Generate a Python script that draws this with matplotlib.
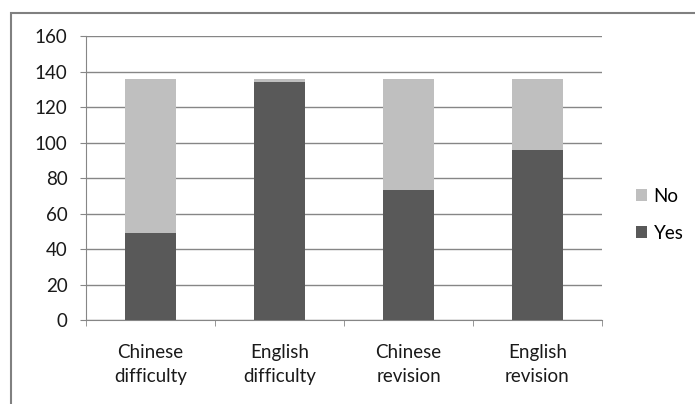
import matplotlib
matplotlib.use("Agg")
import numpy as np
from matplotlib import pyplot as plt
from matplotlib.patches import Rectangle

# data
categories = ["Chinese\ndifficulty", "English\ndifficulty", "Chinese\nrevision", "English\nrevision"]
yes_counts = [49, 134, 73, 96]
no_counts = [87, 2, 63, 40]
y_ticks = [0, 20, 40, 60, 80, 100, 120, 140, 160]

plt.rcParams['font.family'] = ['Lato', 'DejaVu Sans']
fs = 13.5

fig = plt.figure(figsize=(6.95, 4.04), dpi=100)
ax = fig.add_axes([86 / 695, 1 - 320 / 404, (602 - 86) / 695, (320 - 36) / 404])

x = np.arange(len(categories))
bars_yes = ax.bar(x, yes_counts, width=0.4, color='#595959', label='Yes', zorder=3)
bars_no = ax.bar(x, no_counts, width=0.4, bottom=yes_counts, color='#bfbfbf', label='No', zorder=3)

ax.set_xlim(-0.5, len(categories) - 0.5)
ax.set_ylim(0, 160)
ax.set_yticks(y_ticks)
ax.tick_params(axis='y', labelsize=fs, length=4.3, color='#868686', pad=9, labelcolor='#1a1a1a')
ax.set_xticks(x)
ax.set_xticklabels(categories, fontsize=fs, color='#1a1a1a', linespacing=1.5)
ax.set_xticks(np.arange(-0.5, len(categories)), minor=True)
ax.tick_params(axis='x', which='major', length=0, pad=17)
ax.tick_params(axis='x', which='minor', length=4.3, color='#868686')

ax.yaxis.grid(True, color='#868686', linewidth=1)
ax.set_axisbelow(True)
for side in ['top', 'right']:
    ax.spines[side].set_visible(False)
for side in ['left', 'bottom']:
    ax.spines[side].set_color('#868686')

# legend, No on top
ax.legend([bars_no, bars_yes], ['No', 'Yes'], loc='upper left',
          bbox_to_anchor=(619 / 695, 1 - 171 / 404), bbox_transform=fig.transFigure,
          frameon=False, fontsize=fs, handlelength=0.6, handleheight=0.6,
          handletextpad=0.35, labelspacing=1.05)

# chart frame (runs off the right and bottom edges)
fig.patches.append(Rectangle((11 / 695, -0.1), 1.2, 0.1 + 1 - 13 / 404, transform=fig.transFigure,
                             fill=False, edgecolor='#808080', linewidth=1.5))

fig.savefig("out.png", dpi=100)
